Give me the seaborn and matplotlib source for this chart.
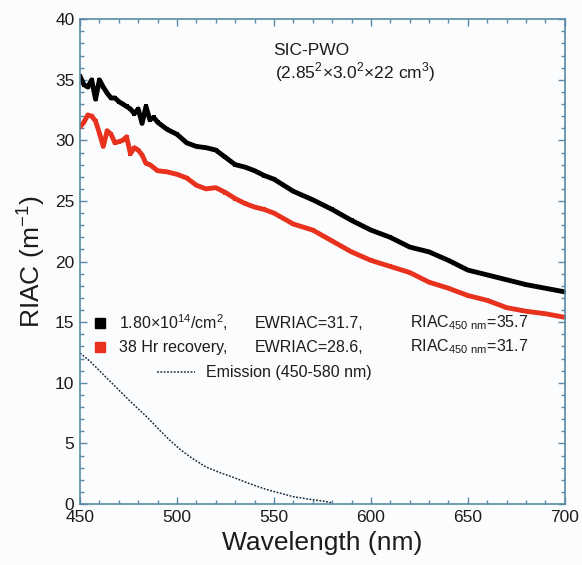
import numpy as np
import pandas as pd
import matplotlib
matplotlib.use("Agg")
import matplotlib.pyplot as plt
import seaborn as sns
from matplotlib.ticker import MultipleLocator

# irradiated (1.80e14/cm2)
black_wl = [450, 452, 454, 456, 458, 460, 462, 464, 466, 468, 470, 472, 474, 476,
            478, 480, 482, 484, 486, 488, 490, 495, 500, 505, 510, 515, 520, 525,
            530, 535, 540, 545, 550, 560, 570, 580, 590, 600, 610, 620, 630, 640,
            650, 660, 670, 680, 690, 700]
black_riac = [35.3, 34.6, 34.4, 35.0, 33.4, 35.0, 34.4, 33.9, 33.5, 33.5, 33.2, 33.0,
              32.8, 32.6, 32.2, 32.6, 31.4, 32.8, 31.7, 31.9, 31.5, 30.9, 30.5, 29.8,
              29.5, 29.4, 29.2, 28.6, 28.0, 27.8, 27.5, 27.1, 26.8, 25.8, 25.1, 24.3,
              23.4, 22.6, 22.0, 21.2, 20.8, 20.1, 19.3, 18.9, 18.5, 18.1, 17.8, 17.5]

# 38 Hr recovery
red_wl = [450, 452, 454, 456, 458, 460, 462, 464, 466, 468, 470, 472, 474, 476,
          478, 480, 482, 484, 486, 490, 495, 500, 505, 510, 515, 520, 525, 530,
          535, 540, 545, 550, 560, 570, 580, 590, 600, 610, 620, 630, 640, 650,
          660, 670, 680, 690, 700]
red_riac = [31.1, 31.5, 32.1, 32.0, 31.6, 30.6, 29.5, 30.8, 30.5, 29.8, 29.9, 30.0,
            30.3, 28.9, 29.4, 29.2, 28.8, 28.1, 28.0, 27.5, 27.4, 27.2, 26.9, 26.3,
            26.0, 26.1, 25.7, 25.2, 24.8, 24.5, 24.3, 24.0, 23.1, 22.6, 21.7, 20.8,
            20.1, 19.6, 19.1, 18.3, 17.8, 17.2, 16.8, 16.2, 15.9, 15.7, 15.4]

# emission spectrum (450-580 nm)
em_wl = [450, 455, 460, 465, 470, 477, 485, 491, 496, 502, 508, 515, 522, 529, 537,
         546, 553, 560, 570, 575, 580]
em_val = [12.45, 11.8, 11.0, 10.2, 9.4, 8.3, 7.1, 6.1, 5.3, 4.45, 3.75, 3.05, 2.6,
          2.2, 1.7, 1.2, 0.9, 0.6, 0.35, 0.25, 0.1]

df_black = pd.DataFrame({"wl": black_wl, "riac": black_riac})
df_red = pd.DataFrame({"wl": red_wl, "riac": red_riac})
df_em = pd.DataFrame({"wl": em_wl, "val": em_val})

sns.set_style("ticks")
plt.rcParams["font.family"] = ["Liberation Sans", "DejaVu Sans"]
plt.rcParams["mathtext.fontset"] = "custom"
plt.rcParams["mathtext.rm"] = "Liberation Sans"

text_col = "#1c1c1c"
spine_col = "#5b8aa6"
red = "#e8321e"

fig = plt.figure(figsize=(5.82, 5.65), dpi=100)
fig.patch.set_facecolor("#fbfcfe")
ax = fig.add_axes([0.1375, 0.108, 0.833, 0.858])
ax.set_facecolor("#fbfcfe")

sns.lineplot(data=df_black, x="wl", y="riac", ax=ax, color="black", lw=3.5,
             marker="s", markersize=3, markeredgewidth=0)
sns.lineplot(data=df_red, x="wl", y="riac", ax=ax, color=red, lw=3.5,
             marker="s", markersize=3, markeredgewidth=0)
sns.lineplot(data=df_em, x="wl", y="val", ax=ax, color="#1c2c3a", lw=1.1,
             linestyle=(0, (1.2, 1.0)))

ax.set_xlim(450, 700)
ax.set_ylim(0, 40)
ax.xaxis.set_major_locator(MultipleLocator(50))
ax.xaxis.set_minor_locator(MultipleLocator(10))
ax.yaxis.set_major_locator(MultipleLocator(5))
ax.yaxis.set_minor_locator(MultipleLocator(1))
ax.tick_params(which="both", direction="in", top=True, right=True,
               color=spine_col, labelcolor=text_col, labelsize=12.5, pad=4)
ax.tick_params(which="major", length=5, width=1)
ax.tick_params(which="minor", length=3, width=1)
for s in ax.spines.values():
    s.set_color(spine_col)
    s.set_linewidth(1.2)

ax.set_xlabel("Wavelength (nm)", fontsize=19, color=text_col, labelpad=5)
ax.set_ylabel("RIAC (m$^{-1}$)", fontsize=19, color=text_col, labelpad=6)

ax.text(549.5, 37.4, "SIC-PWO", fontsize=12.5, color=text_col, va="center")
ax.text(550.5, 35.6, "(2.85$^2$×3.0$^2$×22 cm$^3$)", fontsize=12.5, color=text_col,
        va="center")

# legend block
fs = 11.5
ax.plot([460.3], [14.93], marker="s", color="black", markersize=6.5)
ax.plot([460.3], [12.95], marker="s", color=red, markersize=6.5)
ax.text(470, 14.93, "1.80×10$^{14}$/cm$^2$,", fontsize=fs, color=text_col, va="center")
ax.text(470, 12.95, "38 Hr recovery,", fontsize=fs, color=text_col, va="center")
ax.text(540, 14.93, "EWRIAC=31.7,", fontsize=fs, color=text_col, va="center")
ax.text(540, 12.95, "EWRIAC=28.6,", fontsize=fs, color=text_col, va="center")
ax.text(620, 14.93, "RIAC$_{450\\ \\mathrm{nm}}$=35.7", fontsize=fs, color=text_col, va="center")
ax.text(620, 12.95, "RIAC$_{450\\ \\mathrm{nm}}$=31.7", fontsize=fs, color=text_col, va="center")
ax.plot([489.7, 509.3], [10.89, 10.89], color="#1c2c3a", lw=1.1,
        linestyle=(0, (1.2, 1.0)))
ax.text(515, 10.89, "Emission (450-580 nm)", fontsize=fs, color=text_col, va="center")

fig.savefig("out.png", dpi=100, facecolor=fig.get_facecolor())
